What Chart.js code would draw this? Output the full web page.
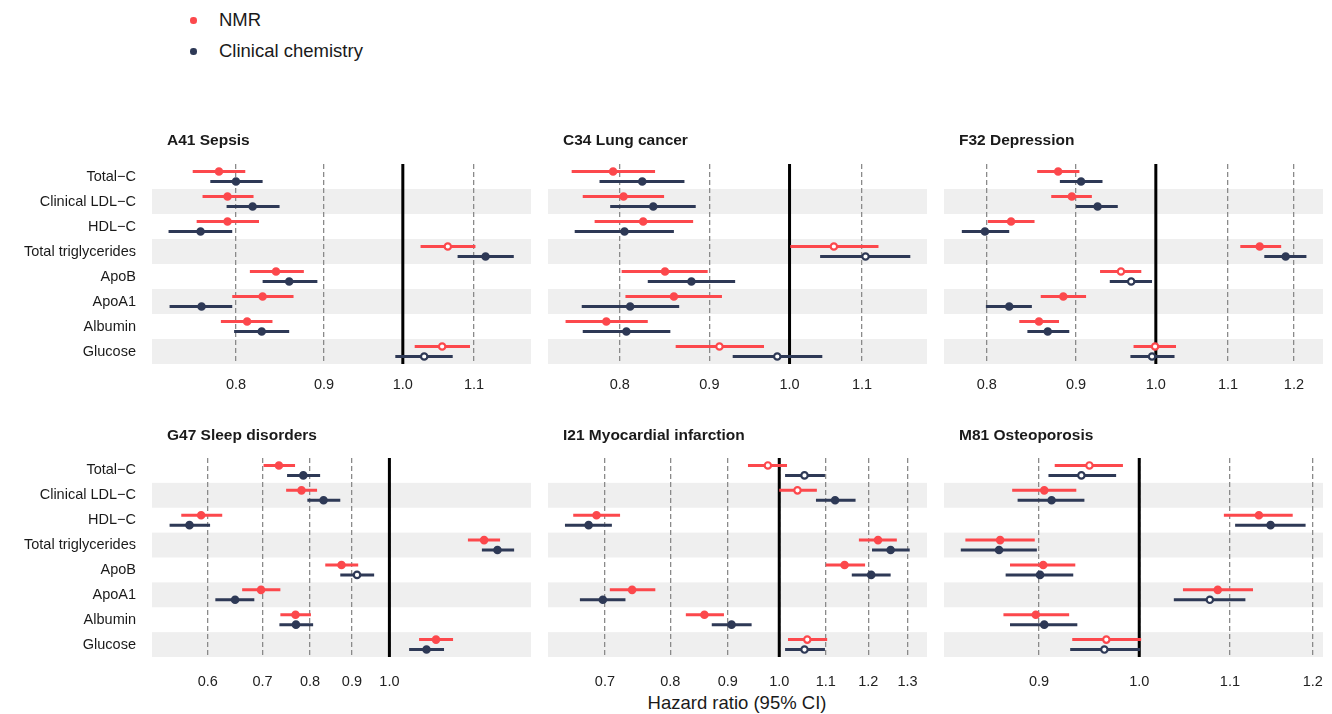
<!DOCTYPE html>
<html>
<head>
<meta charset="utf-8">
<script src="https://cdn.jsdelivr.net/npm/chart.js@4.4.1/dist/chart.umd.min.js"></script>
<style>
  body { margin: 0; background: #fff; font-family: "Liberation Sans", Arial, sans-serif; color: #1a1a1a; }
  #wrap { position: relative; width: 1332px; height: 714px; overflow: hidden; }
  canvas { position: absolute; }
  .title { position: absolute; font-weight: bold; font-size: 15.5px; line-height: 15px; white-space: nowrap; color: #1a1a1a; }
  .leg { position: absolute; left: 0; height: 20px; line-height: 20px; font-size: 18.5px; white-space: nowrap; }
  .leg i { position: absolute; left: 190px; top: 7px; width: 6.5px; height: 6.5px; border-radius: 50%; }
  .leg span { position: absolute; left: 219px; }
  #xtitle { position: absolute; left: 537px; width: 400px; top: 693px; height: 20px; line-height: 20px; text-align: center; font-size: 18.5px; }
</style>
</head>
<body>
<div id="wrap">
  <div class="leg" style="top:10px"><i style="background:#fc484c"></i><span>NMR</span></div>
  <div class="leg" style="top:41px"><i style="background:#2e3956"></i><span>Clinical chemistry</span></div>
  <div id="xtitle">Hazard ratio (95% CI)</div>
</div>
<script>
// Row labels (same for every panel)
const categories = ['Total\u2212C', 'Clinical LDL\u2212C', 'HDL\u2212C', 'Total triglycerides', 'ApoB', 'ApoA1', 'Albumin', 'Glucose'];

// Hazard ratios per row: [estimate, lower 95% CI, upper 95% CI]
const sepsisNmr = [[0.782, 0.755, 0.810], [0.791, 0.765, 0.819], [0.791, 0.759, 0.825], [1.062, 1.024, 1.102], [0.844, 0.815, 0.876], [0.829, 0.796, 0.864], [0.812, 0.784, 0.840], [1.054, 1.016, 1.094]];
const sepsisClin = [[0.800, 0.773, 0.829], [0.818, 0.790, 0.848], [0.763, 0.731, 0.796], [1.117, 1.076, 1.160], [0.859, 0.829, 0.892], [0.764, 0.732, 0.796], [0.828, 0.798, 0.859], [1.029, 0.990, 1.069]];
const lungNmr = [[0.793, 0.751, 0.838], [0.804, 0.762, 0.848], [0.825, 0.774, 0.881], [1.060, 1.001, 1.124], [0.849, 0.802, 0.898], [0.859, 0.806, 0.915], [0.786, 0.745, 0.830], [0.912, 0.861, 0.967]];
const lungClin = [[0.824, 0.779, 0.871], [0.836, 0.790, 0.884], [0.805, 0.754, 0.859], [1.105, 1.041, 1.172], [0.879, 0.830, 0.931], [0.811, 0.761, 0.865], [0.807, 0.762, 0.855], [0.984, 0.928, 1.044]];
const deprNmr = [[0.879, 0.855, 0.904], [0.895, 0.871, 0.919], [0.826, 0.801, 0.852], [1.147, 1.118, 1.180], [0.955, 0.929, 0.981], [0.885, 0.859, 0.912], [0.857, 0.835, 0.880], [0.999, 0.971, 1.027]];
const deprClin = [[0.906, 0.881, 0.932], [0.926, 0.900, 0.951], [0.798, 0.774, 0.824], [1.187, 1.154, 1.220], [0.968, 0.941, 0.995], [0.824, 0.799, 0.849], [0.867, 0.844, 0.892], [0.995, 0.967, 1.025]];
const sleepNmr = [[0.733, 0.702, 0.767], [0.781, 0.748, 0.816], [0.589, 0.557, 0.625], [1.305, 1.247, 1.365], [0.874, 0.835, 0.916], [0.697, 0.661, 0.736], [0.768, 0.736, 0.802], [1.140, 1.087, 1.196]];
const sleepClin = [[0.785, 0.750, 0.823], [0.831, 0.794, 0.871], [0.570, 0.539, 0.604], [1.355, 1.297, 1.420], [0.913, 0.871, 0.958], [0.648, 0.613, 0.684], [0.769, 0.734, 0.807], [1.110, 1.057, 1.166]];
const miNmr = [[0.977, 0.938, 1.016], [1.038, 1.000, 1.080], [0.688, 0.656, 0.722], [1.224, 1.177, 1.272], [1.143, 1.100, 1.192], [0.740, 0.707, 0.776], [0.858, 0.826, 0.893], [1.059, 1.018, 1.103]];
const miClin = [[1.053, 1.012, 1.098], [1.121, 1.078, 1.169], [0.677, 0.645, 0.710], [1.256, 1.209, 1.306], [1.207, 1.160, 1.256], [0.697, 0.665, 0.730], [0.907, 0.871, 0.945], [1.053, 1.012, 1.098]];
const osteoNmr = [[0.949, 0.915, 0.983], [0.905, 0.875, 0.936], [1.134, 1.093, 1.175], [0.864, 0.833, 0.896], [0.904, 0.873, 0.935], [1.086, 1.047, 1.127], [0.897, 0.867, 0.929], [0.966, 0.932, 1.002]];
const osteoClin = [[0.941, 0.909, 0.976], [0.912, 0.880, 0.944], [1.148, 1.106, 1.191], [0.863, 0.829, 0.898], [0.901, 0.869, 0.933], [1.077, 1.037, 1.118], [0.905, 0.873, 0.937], [0.964, 0.930, 1.001]];

// 1 = drawn as open circle
const sepsisNmrOpen = [0, 0, 0, 1, 0, 0, 0, 1];
const sepsisClinOpen = [0, 0, 0, 0, 0, 0, 0, 1];
const lungNmrOpen = [0, 0, 0, 1, 0, 0, 0, 1];
const lungClinOpen = [0, 0, 0, 1, 0, 0, 0, 1];
const deprNmrOpen = [0, 0, 0, 0, 1, 0, 0, 1];
const deprClinOpen = [0, 0, 0, 0, 1, 0, 0, 1];
const sleepNmrOpen = [0, 0, 0, 0, 0, 0, 0, 0];
const sleepClinOpen = [0, 0, 0, 0, 1, 0, 0, 0];
const miNmrOpen = [1, 1, 0, 0, 0, 0, 0, 1];
const miClinOpen = [1, 0, 0, 0, 0, 0, 0, 1];
const osteoNmrOpen = [1, 0, 0, 0, 0, 0, 0, 1];
const osteoClinOpen = [1, 0, 0, 0, 0, 1, 0, 1];

// x tick labels per panel
const sepsisTicks = [0.8, 0.9, 1.0, 1.1];
const lungTicks = [0.8, 0.9, 1.0, 1.1];
const deprTicks = [0.8, 0.9, 1.0, 1.1, 1.2];
const sleepTicks = [0.6, 0.7, 0.8, 0.9, 1.0];
const miTicks = [0.7, 0.8, 0.9, 1.0, 1.1, 1.2, 1.3];
const osteoTicks = [0.9, 1.0, 1.1, 1.2];

const RED = '#fc484c';
const NAVY = '#2e3956';
const FONT = '"Liberation Sans", Arial, sans-serif';

const panels = [
  { title: 'A41 Sepsis', nmr: sepsisNmr, clin: sepsisClin, nmrOpen: sepsisNmrOpen, clinOpen: sepsisClinOpen, ticks: sepsisTicks, min: 0.715, max: 1.187, col: 0, row: 0 },
  { title: 'C34 Lung cancer', nmr: lungNmr, clin: lungClin, nmrOpen: lungNmrOpen, clinOpen: lungClinOpen, ticks: lungTicks, min: 0.728, max: 1.198, col: 1, row: 0 },
  { title: 'F32 Depression', nmr: deprNmr, clin: deprClin, nmrOpen: deprNmrOpen, clinOpen: deprClinOpen, ticks: deprTicks, min: 0.756, max: 1.247, col: 2, row: 0 },
  { title: 'G47 Sleep disorders', nmr: sleepNmr, clin: sleepClin, nmrOpen: sleepNmrOpen, clinOpen: sleepClinOpen, ticks: sleepTicks, min: 0.513, max: 1.489, col: 0, row: 1 },
  { title: 'I21 Myocardial infarction', nmr: miNmr, clin: miClin, nmrOpen: miNmrOpen, clinOpen: miClinOpen, ticks: miTicks, min: 0.623, max: 1.353, col: 1, row: 1 },
  { title: 'M81 Osteoporosis', nmr: osteoNmr, clin: osteoClin, nmrOpen: osteoNmrOpen, clinOpen: osteoClinOpen, ticks: osteoTicks, min: 0.8145, max: 1.213, col: 2, row: 1 }
];

// layout
const colX = [0, 540, 936];
const colW = [540, 396, 396];
const padL = [0, 8, 8];
const rowTop = [120, 415];
const padTop = [44, 43];
const axisH = [36, 38];
const tickPad = [12, 16];
const titleTop = [132, 427];

// grey bands behind every other row
const bandPlugin = {
  id: 'bands',
  beforeDraw(chart) {
    const { ctx, chartArea, scales } = chart;
    const y = scales.y;
    ctx.save();
    ctx.fillStyle = '#efefef';
    categories.forEach((c, i) => {
      if (i % 2 === 1) {
        const top = y.getPixelForValue(i - 0.5);
        const bottom = y.getPixelForValue(i + 0.5);
        ctx.fillRect(chartArea.left, top, chartArea.right - chartArea.left, bottom - top);
      }
    });
    ctx.restore();
  }
};

function ciData(rows, off) {
  const pts = [];
  rows.forEach((r, i) => {
    pts.push({ x: r[1], y: i + off }, { x: r[2], y: i + off }, { x: r[0], y: null });
  });
  return pts;
}

function estData(rows, off) {
  return rows.map((r, i) => ({ x: r[0], y: i + off }));
}

const wrap = document.getElementById('wrap');

panels.forEach(p => {
  const canvas = document.createElement('canvas');
  canvas.width = colW[p.col];
  canvas.height = 280;
  canvas.style.left = colX[p.col] + 'px';
  canvas.style.top = rowTop[p.row] + 'px';
  wrap.appendChild(canvas);

  const t = document.createElement('div');
  t.className = 'title';
  t.textContent = p.title;
  t.style.left = (colX[p.col] + padL[p.col] + (p.col === 0 ? 152 : 0) + 15) + 'px';
  t.style.top = titleTop[p.row] + 'px';
  wrap.appendChild(t);

  new Chart(canvas, {
    type: 'line',
    data: {
      datasets: [
        { data: [{ x: 1, y: -0.5 }, { x: 1, y: 7.5 }], borderColor: '#000', borderWidth: 3, pointRadius: 0, order: 4 },
        { data: ciData(p.nmr, -0.2), borderColor: RED, borderWidth: 3, pointRadius: 0, order: 3 },
        { data: ciData(p.clin, 0.2), borderColor: NAVY, borderWidth: 3, pointRadius: 0, order: 3 },
        {
          data: estData(p.nmr, -0.2), showLine: false, pointRadius: 3.2, pointBorderWidth: 2.2,
          pointBorderColor: RED, pointBackgroundColor: p.nmrOpen.map(o => o ? '#fff' : RED), order: 1
        },
        {
          data: estData(p.clin, 0.2), showLine: false, pointRadius: 3.2, pointBorderWidth: 2.2,
          pointBorderColor: NAVY, pointBackgroundColor: p.clinOpen.map(o => o ? '#fff' : NAVY), order: 1
        }
      ]
    },
    options: {
      responsive: false,
      animation: false,
      events: [],
      layout: { padding: { left: padL[p.col], right: 9, top: padTop[p.row], bottom: 0 } },
      plugins: { legend: { display: false }, tooltip: { enabled: false } },
      scales: {
        x: {
          type: 'logarithmic',
          min: p.min,
          max: p.max,
          bounds: 'data',
          afterBuildTicks: s => { s.ticks = p.ticks.map(v => ({ value: v })); },
          afterFit: s => {
            s.height = axisH[p.row];
            s.paddingLeft = 0;
            s.paddingRight = 0;
          },
          grid: { color: '#8a8a8a', lineWidth: 1.3, drawTicks: false },
          border: { display: false, dash: [5, 3] },
          ticks: {
            padding: tickPad[p.row], color: '#222', autoSkip: false, maxRotation: 0,
            font: { family: FONT, size: 14.5 },
            callback: v => Number(v).toFixed(1)
          }
        },
        y: {
          type: 'linear',
          reverse: true,
          min: -0.5,
          max: 7.5,
          bounds: 'data',
          display: p.col === 0,
          afterBuildTicks: s => { s.ticks = categories.map((c, i) => ({ value: i })); },
          afterFit: s => {
            if (p.col === 0) s.width = 152;
            s.paddingTop = 0;
            s.paddingBottom = 0;
          },
          grid: { display: false, drawTicks: false },
          border: { display: false },
          ticks: {
            padding: 16, color: '#1a1a1a', autoSkip: false,
            font: { family: FONT, size: 14.5 },
            callback: v => categories[v]
          }
        }
      }
    },
    plugins: [bandPlugin]
  });
});
</script>
</body>
</html>
